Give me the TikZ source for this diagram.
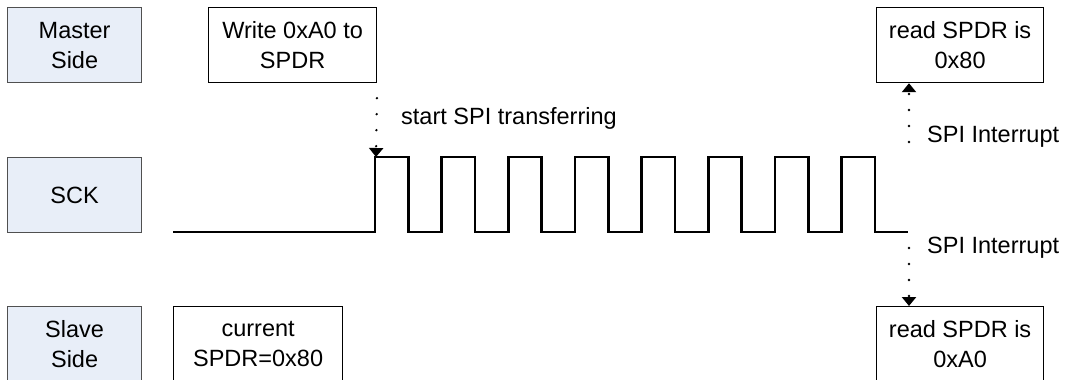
\documentclass[tikz,border=0pt]{standalone}
\usepackage{fontspec}
\setmainfont{Liberation Sans}
\usetikzlibrary{arrows.meta}
\definecolor{sidefill}{HTML}{E8EEF8}
\definecolor{sideedge}{HTML}{505050}
\begin{document}
\begin{tikzpicture}[x=1pt,y=-1pt,
  txt/.style={font=\fontsize{23.5}{30}\selectfont},
  box/.style={txt, draw=black, line width=1.2pt, fill=white, minimum width=168pt, minimum height=75pt, inner sep=0pt, align=center, anchor=north west},
  sidebox/.style={box, draw=sideedge, fill=sidefill, minimum width=134pt},
  clk/.style={line width=2.8pt, line join=miter},
  dotarrow/.style={line width=2.6pt, line cap=round, dash pattern=on 0pt off 16pt, -{Triangle[width=14pt,length=9pt]}, shorten <=15pt},
  lbl/.style={txt, anchor=west, inner sep=0pt}]
\useasboundingbox (0,0) rectangle (1066,380);
\begin{scope}
\clip (0,0) rectangle (1066,380);
\node[sidebox] (master) at (7,7) {Master\\Side};
\node[sidebox] (sck) at (7,157) {SCK};
\node[sidebox] (slave) at (7,306) {Slave\\Side};
\node[box] (write) at (208,7) {Write 0xA0 to\\SPDR};
\node[box, minimum width=169pt] (cur) at (173,306) {current\\SPDR=0x80};
\node[box, minimum width=167pt] (readM) at (876,7) {read SPDR is\\0x80};
\node[box, minimum width=167pt] (readS) at (876,306) {read SPDR is\\0xA0};
\end{scope}
\coordinate (c0) at (173,232);
\coordinate (rise) at (376,157);
\coordinate (endhi) at (909,157);
\coordinate (endlo) at (909,232);
\draw[clk] (c0) -- (375,232) foreach \k in {0,...,7} { -- ++(0,-75) -- ++(33.33,0) -- ++(0,75) -- ++(33.33,0) };
\draw[dotarrow] (write.south east) -- (rise);
\draw[dotarrow] (endhi) -- (endhi |- readM.south);
\draw[dotarrow, shorten <=16pt] (endlo) -- (endlo |- readS.north);
\node[lbl] (start) at (401,118) {start SPI transferring};
\node[lbl] (intM) at (927,137) {SPI Interrupt};
\node[lbl] (intS) at (927,248) {SPI Interrupt};
\end{tikzpicture}
\end{document}
